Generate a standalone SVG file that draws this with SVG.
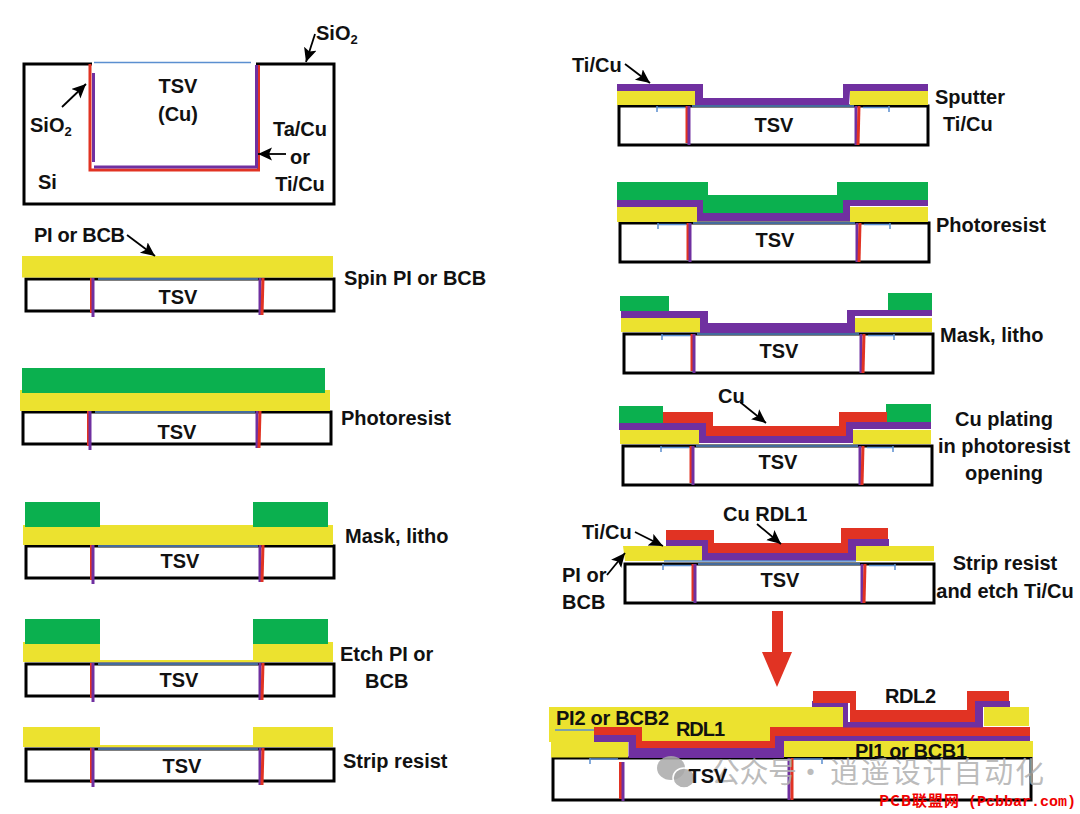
<svg xmlns="http://www.w3.org/2000/svg" width="1080" height="814" viewBox="0 0 1080 814">
<style>
text{font-family:"Liberation Sans",Arial,sans-serif;font-weight:700;font-size:20px;fill:#111}
.m{text-anchor:middle}
.sub{font-size:13px}
.box{fill:#fff;stroke:#000;stroke-width:3}
.y{fill:#ece22f}.g{fill:#0bb04f}.p{fill:#7030a0}.r{fill:#e13323}
.lp{stroke:#7030a0;stroke-width:3;fill:none}
.lr{stroke:#e13323;stroke-width:3;fill:none}
.lb{stroke:#5b8fd0;stroke-width:1.5;fill:none}
.arrow{stroke:#000;stroke-width:1.8;fill:none;marker-end:url(#ah)}
.wm{font-family:"Noto Sans CJK SC",sans-serif;font-weight:400;font-size:29px;fill:#b0b0b0;fill-opacity:.85}
.wi{fill:#a9a9a9;fill-opacity:.85}
.pcb{font-family:"Noto Sans CJK SC",sans-serif;font-weight:700;font-size:15px;fill:#f00000}
.pcbm{font-family:"Liberation Mono",monospace;font-weight:700;font-size:15px;fill:#f00000}
</style>
<defs>
<marker id="ah" markerUnits="userSpaceOnUse" markerWidth="15" markerHeight="14" refX="14" refY="6.500" orient="auto"><path d="M0,0L14,6.500L0,13L3,6.500Z" fill="#000"/></marker>
<g id="lbox">
<rect class="box" x="0" y="0" width="308" height="32"/>
<path class="lb" d="M72,0H232"/>
<path class="lr" d="M65.500,-1V34"/>
<path class="lp" d="M67,-1V38"/>
<path class="lp" d="M234,-1V36"/>
<path class="lr" d="M237,-1L236,36"/>
</g>
<g id="rbox">
<rect class="box" x="0" y="0" width="309" height="39"/>
<path class="lb" d="M38,1.500H66M38,0V6M73,0H235M244,1.500H270M270,0V6"/>
<path class="lr" d="M68,0V37" stroke-width="2"/>
<path class="lp" d="M70,0V39" stroke-width="2.500"/>
<path class="lp" d="M237,0V39" stroke-width="2.500"/>
<path class="lr" d="M240,0L239,39"/>
</g>
</defs>

<g id="panel-tsv">
<rect class="box" x="24" y="64" width="310" height="140"/>
<path d="M92,64H256" stroke="#fff" stroke-width="4"/>
<path class="lb" d="M94,62.500H251"/>
<path class="lr" d="M90,64V170H258.500V65"/>
<path class="lp" d="M93.500,73V162M94,167H256.500V65"/>
<text class="m" x="178" y="93">TSV</text>
<text class="m" x="178" y="121">(Cu)</text>
<text x="316" y="40">SiO<tspan class="sub" dy="4">2</tspan></text>
<text x="30" y="132">SiO<tspan class="sub" dy="4">2</tspan></text>
<text class="m" x="300" y="136">Ta/Cu</text>
<text class="m" x="300" y="164">or</text>
<text class="m" x="300" y="191">Ti/Cu</text>
<text x="38" y="189">Si</text>
</g>

<g id="panel-spin">
<use href="#lbox" x="26" y="279"/>
<rect class="y" x="22" y="256" width="311" height="21.500"/>
<text class="m" x="178" y="304">TSV</text>
<text x="34" y="242" textLength="91">PI or BCB</text>
<text x="344" y="285">Spin PI or BCB</text>
</g>

<g id="panel-photoresist">
<use href="#lbox" x="23" y="412"/>
<rect class="y" x="20" y="390" width="310" height="21"/>
<rect class="g" x="22" y="368" width="303" height="25"/>
<text class="m" x="177" y="439">TSV</text>
<text x="341" y="425">Photoresist</text>
</g>

<g id="panel-mask">
<use href="#lbox" x="26" y="546"/>
<rect class="y" x="23" y="525" width="310" height="20"/>
<rect class="g" x="25" y="502" width="75" height="25"/>
<rect class="g" x="253" y="502" width="75" height="25"/>
<text class="m" x="180" y="568">TSV</text>
<text x="345" y="543">Mask, litho</text>
</g>

<g id="panel-etch">
<use href="#lbox" x="26" y="664"/>
<path class="y" d="M23,642H100V660H253V642H333V662H23Z"/>
<rect class="g" x="25" y="619" width="75" height="25"/>
<rect class="g" x="253" y="619" width="75" height="25"/>
<text class="m" x="179" y="687">TSV</text>
<text x="340" y="661">Etch PI or</text>
<text x="365" y="688">BCB</text>
</g>

<g id="panel-strip">
<use href="#lbox" x="26" y="749"/>
<path class="y" d="M23,727H100V745H253V727H333V747H23Z"/>
<text class="m" x="182" y="773">TSV</text>
<text x="343" y="768">Strip resist</text>
</g>

<g id="panel-sputter">
<use href="#rbox" x="619" y="106"/>
<rect class="y" x="617" y="91" width="78" height="14"/>
<rect class="y" x="850" y="91" width="78" height="14"/>
<path class="p" d="M617,84H703V98H843V84H928V91H850L849,105H695V91H617Z"/>
<text class="m" x="774" y="132">TSV</text>
<text x="572" y="72">Ti/Cu</text>
<text x="935" y="104">Sputter</text>
<text x="943" y="131">Ti/Cu</text>
</g>

<g id="panel-photoresist2">
<use href="#rbox" x="620" y="223"/>
<rect class="y" x="617" y="207" width="80" height="15"/>
<rect class="y" x="850" y="207" width="78" height="15"/>
<path class="g" d="M617,182H708V195H837V182H928V200H843V213H703V200H617Z"/>
<path class="p" d="M617,200H703V213H843V200H928V206H850V221H697V207H617Z"/>
<text class="m" x="775" y="247">TSV</text>
<text x="936" y="232">Photoresist</text>
</g>

<g id="panel-mask2">
<use href="#rbox" x="624" y="334"/>
<rect class="y" x="621" y="318" width="79" height="14"/>
<rect class="y" x="855" y="318" width="77" height="14"/>
<rect class="g" x="620" y="296" width="49" height="15"/>
<rect class="g" x="888" y="293" width="44" height="18"/>
<path class="p" d="M621,311H708V323H847V310H932V316H855V333H700V318H621Z"/>
<text class="m" x="779" y="358">TSV</text>
<text x="940" y="342">Mask, litho</text>
</g>

<g id="panel-plating">
<use href="#rbox" x="623" y="446"/>
<rect class="y" x="620" y="430" width="79" height="14"/>
<rect class="y" x="853" y="430" width="78" height="14"/>
<rect class="g" x="619" y="406" width="44" height="17"/>
<rect class="g" x="886" y="404" width="45" height="18"/>
<path class="r" d="M663,412H713V426H839V412H887V422H846V436H706V423H663Z"/>
<path class="p" d="M619,423H706V436H846V422H931V429H853V443H699V430H619Z"/>
<text x="718" y="403">Cu</text>
<text class="m" x="778" y="469">TSV</text>
<text class="m" x="1004" y="426">Cu plating</text>
<text class="m" x="1004" y="453">in photoresist</text>
<text class="m" x="1004" y="480">opening</text>
</g>

<g id="panel-rdl1">
<use href="#rbox" x="625" y="564"/>
<path class="y" d="M623,546H702V561H625Z"/>
<path class="y" d="M856,546H934V561H856Z"/>
<path class="r" d="M666,530H714V543H841V528H888V539H848V553H708V540H666Z"/>
<path class="p" d="M666,540H708V553H848V539H889V546H856V561H702V546H666Z"/>
<path class="lb" d="M664,561H856"/>
<text class="m" x="780" y="587">TSV</text>
<text x="723" y="521">Cu RDL1</text>
<text x="582" y="539">Ti/Cu</text>
<text x="562" y="582">PI or</text>
<text x="562" y="609">BCB</text>
<text class="m" x="1005" y="570">Strip resist</text>
<text class="m" x="1005" y="598">and etch Ti/Cu</text>
</g>

<g id="panel-rdl2">
<rect class="box" x="553" y="758" width="478" height="42"/>
<path class="lb" d="M590,759H618M590,758V764M793,759H822M822,758V764"/>
<path class="lr" d="M620.500,762V799"/>
<path class="lp" d="M623,762V801"/>
<path class="lp" d="M789,758V800"/>
<path class="lr" d="M792,758V800"/>
<path class="y" d="M549,707H843V727H770V741H642V727H594V742H549Z"/>
<rect class="y" x="984" y="707" width="45" height="19"/>
<path class="lb" d="M555,730H594"/>
<path class="y" d="M551,742H628V757.500H551Z"/>
<path class="y" d="M783,741H1033V757H783Z"/>
<path class="r" d="M594,727H642V741H770V727H1030V736H775V748H636V735H594Z"/>
<path class="p" d="M594,735H636V748H775V736H1030V741H784V758H628.500V742H594Z"/>
<path class="p" d="M812,701H848V722H975V701H1010V707H983V727.500H843V707H812Z"/>
<path class="r" d="M813,691H856V710H967V691H1009V701H975V722H850V703H813Z"/>
<text x="556" y="725" textLength="113">PI2 or BCB2</text>
<text x="676" y="736" textLength="49">RDL1</text>
<text x="885" y="703" textLength="51">RDL2</text>
<text x="855" y="758" textLength="112">PI1 or BCB1</text>
</g>

<g id="connectors">
<path class="arrow" d="M315,34L306,62"/>
<path class="arrow" d="M62,107L86,84"/>
<path class="arrow" d="M286,154H258"/>
<path class="arrow" d="M127,235L155,256"/>
<path class="arrow" d="M625,64L650,83"/>
<path class="arrow" d="M740,402L766,423"/>
<path class="arrow" d="M757,524L781,544"/>
<path class="arrow" d="M635,532L663,546"/>
<path class="arrow" d="M607,575L625,553"/>
<path class="r" d="M772,611H783V652H792L777,687L762,652H772Z"/>
</g>

<g id="watermark">
<ellipse class="wi" cx="671" cy="768" rx="14" ry="12"/>
<ellipse class="wi" cx="684" cy="778" rx="11" ry="10" stroke="#fff" stroke-width="1.500"/>
<text class="wm" x="711" y="783" textLength="86">公众号</text>
<text class="wm" x="796" y="783">·</text>
<text class="wm" x="830" y="783" textLength="214">逍遥设计自动化</text>
<text class="pcb" x="879" y="806" textLength="80">PCB联盟网</text>
<text class="pcbm" x="968" y="806">(Pcbbar.com)</text>
</g>

<g id="panel-rdl2-label">
<text class="m" x="708" y="783">TSV</text>
</g>
</svg>
